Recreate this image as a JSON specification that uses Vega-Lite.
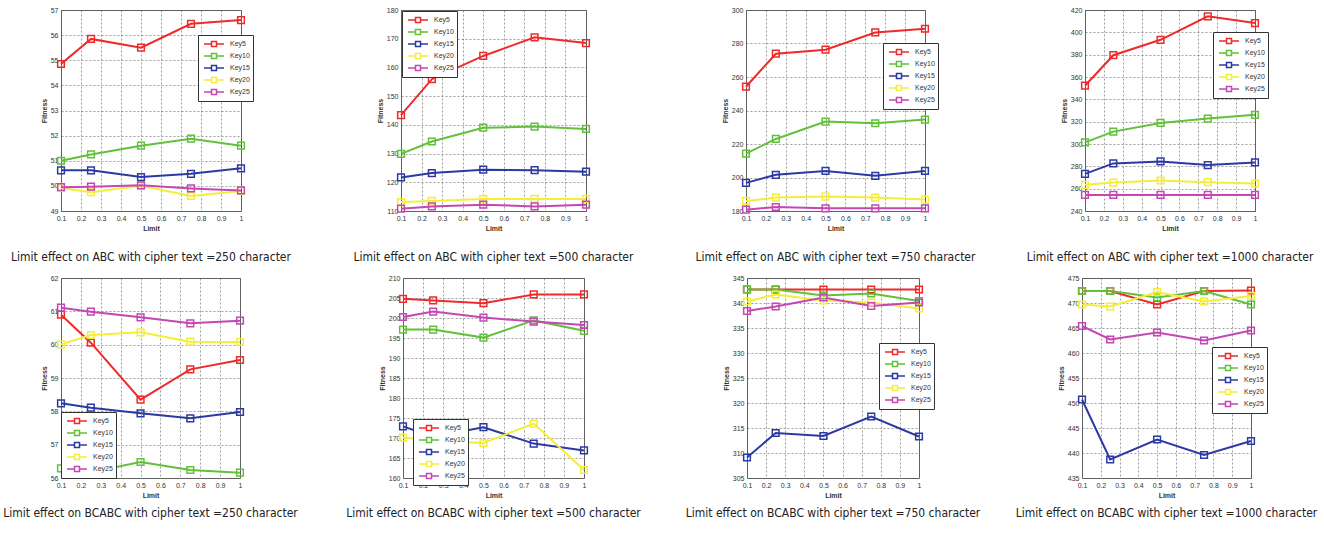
{
"$schema":"https://vega.github.io/schema/vega-lite/v6.json",
"background":"white",
"padding":{"left":2,"top":5,"right":5,"bottom":5},
"spacing":9,
"resolve":{"scale":{"color":"independent","x":"independent","y":"independent"},"legend":{"color":"independent"}},
"data":{"values":[
{"panel":"A250","limit":0.1,"key":"Key5","fitness":54.85},{"panel":"A250","limit":0.25,"key":"Key5","fitness":55.85},{"panel":"A250","limit":0.5,"key":"Key5","fitness":55.5},{"panel":"A250","limit":0.75,"key":"Key5","fitness":56.45},{"panel":"A250","limit":1,"key":"Key5","fitness":56.6},
{"panel":"A250","limit":0.1,"key":"Key10","fitness":51.0},{"panel":"A250","limit":0.25,"key":"Key10","fitness":51.25},{"panel":"A250","limit":0.5,"key":"Key10","fitness":51.6},{"panel":"A250","limit":0.75,"key":"Key10","fitness":51.88},{"panel":"A250","limit":1,"key":"Key10","fitness":51.6},
{"panel":"A250","limit":0.1,"key":"Key15","fitness":50.62},{"panel":"A250","limit":0.25,"key":"Key15","fitness":50.62},{"panel":"A250","limit":0.5,"key":"Key15","fitness":50.35},{"panel":"A250","limit":0.75,"key":"Key15","fitness":50.48},{"panel":"A250","limit":1,"key":"Key15","fitness":50.7},
{"panel":"A250","limit":0.1,"key":"Key20","fitness":49.92},{"panel":"A250","limit":0.25,"key":"Key20","fitness":49.75},{"panel":"A250","limit":0.5,"key":"Key20","fitness":50.0},{"panel":"A250","limit":0.75,"key":"Key20","fitness":49.6},{"panel":"A250","limit":1,"key":"Key20","fitness":49.8},
{"panel":"A250","limit":0.1,"key":"Key25","fitness":49.95},{"panel":"A250","limit":0.25,"key":"Key25","fitness":49.97},{"panel":"A250","limit":0.5,"key":"Key25","fitness":50.02},{"panel":"A250","limit":0.75,"key":"Key25","fitness":49.9},{"panel":"A250","limit":1,"key":"Key25","fitness":49.82},

{"panel":"A500","limit":0.1,"key":"Key5","fitness":143.4},{"panel":"A500","limit":0.25,"key":"Key5","fitness":155.9},{"panel":"A500","limit":0.5,"key":"Key5","fitness":164},{"panel":"A500","limit":0.75,"key":"Key5","fitness":170.5},{"panel":"A500","limit":1,"key":"Key5","fitness":168.5},
{"panel":"A500","limit":0.1,"key":"Key10","fitness":129.9},{"panel":"A500","limit":0.25,"key":"Key10","fitness":134.2},{"panel":"A500","limit":0.5,"key":"Key10","fitness":139},{"panel":"A500","limit":0.75,"key":"Key10","fitness":139.4},{"panel":"A500","limit":1,"key":"Key10","fitness":138.6},
{"panel":"A500","limit":0.1,"key":"Key15","fitness":121.7},{"panel":"A500","limit":0.25,"key":"Key15","fitness":123.2},{"panel":"A500","limit":0.5,"key":"Key15","fitness":124.4},{"panel":"A500","limit":0.75,"key":"Key15","fitness":124.2},{"panel":"A500","limit":1,"key":"Key15","fitness":123.7},
{"panel":"A500","limit":0.1,"key":"Key20","fitness":113.1},{"panel":"A500","limit":0.25,"key":"Key20","fitness":113.5},{"panel":"A500","limit":0.5,"key":"Key20","fitness":114.2},{"panel":"A500","limit":0.75,"key":"Key20","fitness":114.2},{"panel":"A500","limit":1,"key":"Key20","fitness":114.2},
{"panel":"A500","limit":0.1,"key":"Key25","fitness":110.8},{"panel":"A500","limit":0.25,"key":"Key25","fitness":111.6},{"panel":"A500","limit":0.5,"key":"Key25","fitness":112.2},{"panel":"A500","limit":0.75,"key":"Key25","fitness":111.6},{"panel":"A500","limit":1,"key":"Key25","fitness":112.2},

{"panel":"A750","limit":0.1,"key":"Key5","fitness":254.2},{"panel":"A750","limit":0.25,"key":"Key5","fitness":273.9},{"panel":"A750","limit":0.5,"key":"Key5","fitness":276.3},{"panel":"A750","limit":0.75,"key":"Key5","fitness":286.6},{"panel":"A750","limit":1,"key":"Key5","fitness":288.8},
{"panel":"A750","limit":0.1,"key":"Key10","fitness":214.3},{"panel":"A750","limit":0.25,"key":"Key10","fitness":223},{"panel":"A750","limit":0.5,"key":"Key10","fitness":233.4},{"panel":"A750","limit":0.75,"key":"Key10","fitness":232.4},{"panel":"A750","limit":1,"key":"Key10","fitness":234.6},
{"panel":"A750","limit":0.1,"key":"Key15","fitness":196.8},{"panel":"A750","limit":0.25,"key":"Key15","fitness":201.6},{"panel":"A750","limit":0.5,"key":"Key15","fitness":203.9},{"panel":"A750","limit":0.75,"key":"Key15","fitness":201},{"panel":"A750","limit":1,"key":"Key15","fitness":203.9},
{"panel":"A750","limit":0.1,"key":"Key20","fitness":186},{"panel":"A750","limit":0.25,"key":"Key20","fitness":188},{"panel":"A750","limit":0.5,"key":"Key20","fitness":188.6},{"panel":"A750","limit":0.75,"key":"Key20","fitness":188},{"panel":"A750","limit":1,"key":"Key20","fitness":186.8},
{"panel":"A750","limit":0.1,"key":"Key25","fitness":180.8},{"panel":"A750","limit":0.25,"key":"Key25","fitness":182.4},{"panel":"A750","limit":0.5,"key":"Key25","fitness":181.6},{"panel":"A750","limit":0.75,"key":"Key25","fitness":181.6},{"panel":"A750","limit":1,"key":"Key25","fitness":181.6},

{"panel":"A1000","limit":0.1,"key":"Key5","fitness":352.2},{"panel":"A1000","limit":0.25,"key":"Key5","fitness":379.5},{"panel":"A1000","limit":0.5,"key":"Key5","fitness":393.3},{"panel":"A1000","limit":0.75,"key":"Key5","fitness":414.3},{"panel":"A1000","limit":1,"key":"Key5","fitness":408.3},
{"panel":"A1000","limit":0.1,"key":"Key10","fitness":301.5},{"panel":"A1000","limit":0.25,"key":"Key10","fitness":311.1},{"panel":"A1000","limit":0.5,"key":"Key10","fitness":318.9},{"panel":"A1000","limit":0.75,"key":"Key10","fitness":322.8},{"panel":"A1000","limit":1,"key":"Key10","fitness":326.1},
{"panel":"A1000","limit":0.1,"key":"Key15","fitness":273.3},{"panel":"A1000","limit":0.25,"key":"Key15","fitness":282.6},{"panel":"A1000","limit":0.5,"key":"Key15","fitness":284.4},{"panel":"A1000","limit":0.75,"key":"Key15","fitness":281.1},{"panel":"A1000","limit":1,"key":"Key15","fitness":283.5},
{"panel":"A1000","limit":0.1,"key":"Key20","fitness":263.4},{"panel":"A1000","limit":0.25,"key":"Key20","fitness":265.5},{"panel":"A1000","limit":0.5,"key":"Key20","fitness":267.3},{"panel":"A1000","limit":0.75,"key":"Key20","fitness":265.8},{"panel":"A1000","limit":1,"key":"Key20","fitness":264.6},
{"panel":"A1000","limit":0.1,"key":"Key25","fitness":254.4},{"panel":"A1000","limit":0.25,"key":"Key25","fitness":254.4},{"panel":"A1000","limit":0.5,"key":"Key25","fitness":254.4},{"panel":"A1000","limit":0.75,"key":"Key25","fitness":254.4},{"panel":"A1000","limit":1,"key":"Key25","fitness":254.4},

{"panel":"B250","limit":0.1,"key":"Key5","fitness":60.9},{"panel":"B250","limit":0.25,"key":"Key5","fitness":60.06},{"panel":"B250","limit":0.5,"key":"Key5","fitness":58.35},{"panel":"B250","limit":0.75,"key":"Key5","fitness":59.26},{"panel":"B250","limit":1,"key":"Key5","fitness":59.54},
{"panel":"B250","limit":0.1,"key":"Key10","fitness":56.29},{"panel":"B250","limit":0.25,"key":"Key10","fitness":56.17},{"panel":"B250","limit":0.5,"key":"Key10","fitness":56.48},{"panel":"B250","limit":0.75,"key":"Key10","fitness":56.24},{"panel":"B250","limit":1,"key":"Key10","fitness":56.16},
{"panel":"B250","limit":0.1,"key":"Key15","fitness":58.24},{"panel":"B250","limit":0.25,"key":"Key15","fitness":58.11},{"panel":"B250","limit":0.5,"key":"Key15","fitness":57.94},{"panel":"B250","limit":0.75,"key":"Key15","fitness":57.79},{"panel":"B250","limit":1,"key":"Key15","fitness":57.98},
{"panel":"B250","limit":0.1,"key":"Key20","fitness":60.01},{"panel":"B250","limit":0.25,"key":"Key20","fitness":60.29},{"panel":"B250","limit":0.5,"key":"Key20","fitness":60.37},{"panel":"B250","limit":0.75,"key":"Key20","fitness":60.09},{"panel":"B250","limit":1,"key":"Key20","fitness":60.08},
{"panel":"B250","limit":0.1,"key":"Key25","fitness":61.11},{"panel":"B250","limit":0.25,"key":"Key25","fitness":60.99},{"panel":"B250","limit":0.5,"key":"Key25","fitness":60.82},{"panel":"B250","limit":0.75,"key":"Key25","fitness":60.64},{"panel":"B250","limit":1,"key":"Key25","fitness":60.72},

{"panel":"B500","limit":0.1,"key":"Key5","fitness":204.8},{"panel":"B500","limit":0.25,"key":"Key5","fitness":204.4},{"panel":"B500","limit":0.5,"key":"Key5","fitness":203.7},{"panel":"B500","limit":0.75,"key":"Key5","fitness":205.9},{"panel":"B500","limit":1,"key":"Key5","fitness":205.9},
{"panel":"B500","limit":0.1,"key":"Key10","fitness":197.1},{"panel":"B500","limit":0.25,"key":"Key10","fitness":197.1},{"panel":"B500","limit":0.5,"key":"Key10","fitness":195.1},{"panel":"B500","limit":0.75,"key":"Key10","fitness":199.4},{"panel":"B500","limit":1,"key":"Key10","fitness":196.8},
{"panel":"B500","limit":0.1,"key":"Key15","fitness":172.9},{"panel":"B500","limit":0.25,"key":"Key15","fitness":170.3},{"panel":"B500","limit":0.5,"key":"Key15","fitness":172.7},{"panel":"B500","limit":0.75,"key":"Key15","fitness":168.6},{"panel":"B500","limit":1,"key":"Key15","fitness":166.9},
{"panel":"B500","limit":0.1,"key":"Key20","fitness":170.1},{"panel":"B500","limit":0.25,"key":"Key20","fitness":169.3},{"panel":"B500","limit":0.5,"key":"Key20","fitness":168.75},{"panel":"B500","limit":0.75,"key":"Key20","fitness":173.6},{"panel":"B500","limit":1,"key":"Key20","fitness":162},
{"panel":"B500","limit":0.1,"key":"Key25","fitness":200.25},{"panel":"B500","limit":0.25,"key":"Key25","fitness":201.6},{"panel":"B500","limit":0.5,"key":"Key25","fitness":200.1},{"panel":"B500","limit":0.75,"key":"Key25","fitness":199.1},{"panel":"B500","limit":1,"key":"Key25","fitness":198.25},

{"panel":"B750","limit":0.1,"key":"Key5","fitness":342.7},{"panel":"B750","limit":0.25,"key":"Key5","fitness":342.7},{"panel":"B750","limit":0.5,"key":"Key5","fitness":342.7},{"panel":"B750","limit":0.75,"key":"Key5","fitness":342.7},{"panel":"B750","limit":1,"key":"Key5","fitness":342.7},
{"panel":"B750","limit":0.1,"key":"Key10","fitness":342.7},{"panel":"B750","limit":0.25,"key":"Key10","fitness":342.7},{"panel":"B750","limit":0.5,"key":"Key10","fitness":341.5},{"panel":"B750","limit":0.75,"key":"Key10","fitness":341.9},{"panel":"B750","limit":1,"key":"Key10","fitness":340.4},
{"panel":"B750","limit":0.1,"key":"Key15","fitness":309.1},{"panel":"B750","limit":0.25,"key":"Key15","fitness":314},{"panel":"B750","limit":0.5,"key":"Key15","fitness":313.4},{"panel":"B750","limit":0.75,"key":"Key15","fitness":317.3},{"panel":"B750","limit":1,"key":"Key15","fitness":313.3},
{"panel":"B750","limit":0.1,"key":"Key20","fitness":340.3},{"panel":"B750","limit":0.25,"key":"Key20","fitness":341.7},{"panel":"B750","limit":0.5,"key":"Key20","fitness":340.5},{"panel":"B750","limit":0.75,"key":"Key20","fitness":340.1},{"panel":"B750","limit":1,"key":"Key20","fitness":338.9},
{"panel":"B750","limit":0.1,"key":"Key25","fitness":338.4},{"panel":"B750","limit":0.25,"key":"Key25","fitness":339.3},{"panel":"B750","limit":0.5,"key":"Key25","fitness":341.1},{"panel":"B750","limit":0.75,"key":"Key25","fitness":339.4},{"panel":"B750","limit":1,"key":"Key25","fitness":340.1},

{"panel":"B1000","limit":0.1,"key":"Key5","fitness":472.4},{"panel":"B1000","limit":0.25,"key":"Key5","fitness":472.4},{"panel":"B1000","limit":0.5,"key":"Key5","fitness":469.7},{"panel":"B1000","limit":0.75,"key":"Key5","fitness":472.4},{"panel":"B1000","limit":1,"key":"Key5","fitness":472.5},
{"panel":"B1000","limit":0.1,"key":"Key10","fitness":472.4},{"panel":"B1000","limit":0.25,"key":"Key10","fitness":472.4},{"panel":"B1000","limit":0.5,"key":"Key10","fitness":471.1},{"panel":"B1000","limit":0.75,"key":"Key10","fitness":472.4},{"panel":"B1000","limit":1,"key":"Key10","fitness":469.7},
{"panel":"B1000","limit":0.1,"key":"Key15","fitness":450.7},{"panel":"B1000","limit":0.25,"key":"Key15","fitness":438.7},{"panel":"B1000","limit":0.5,"key":"Key15","fitness":442.7},{"panel":"B1000","limit":0.75,"key":"Key15","fitness":439.6},{"panel":"B1000","limit":1,"key":"Key15","fitness":442.4},
{"panel":"B1000","limit":0.1,"key":"Key20","fitness":469.7},{"panel":"B1000","limit":0.25,"key":"Key20","fitness":469.3},{"panel":"B1000","limit":0.5,"key":"Key20","fitness":472.2},{"panel":"B1000","limit":0.75,"key":"Key20","fitness":470.3},{"panel":"B1000","limit":1,"key":"Key20","fitness":471.4},
{"panel":"B1000","limit":0.1,"key":"Key25","fitness":465.4},{"panel":"B1000","limit":0.25,"key":"Key25","fitness":462.7},{"panel":"B1000","limit":0.5,"key":"Key25","fitness":464.1},{"panel":"B1000","limit":0.75,"key":"Key25","fitness":462.5},{"panel":"B1000","limit":1,"key":"Key25","fitness":464.5}
]},
"vconcat":[
{"hconcat":[
{"width":180,"height":201,"transform":[{"filter":"datum.panel=='A250'"}],"title":{"text":"Limit effect on ABC with cipher text =250 character","offset":21},
"mark":{"type":"line","strokeWidth":2,"point":{"shape":"square","filled":false,"size":45,"strokeWidth":1.5}},
"encoding":{"x":{"field":"limit","type":"quantitative","title":"Limit","scale":{"domain":[0.1,1]},"axis":{"values":[0.1,0.2,0.3,0.4,0.5,0.6,0.7,0.8,0.9,1],"labelExpr":"datum.value==1?'1':format(datum.value,'.1f')"}},
"y":{"field":"fitness","type":"quantitative","title":"Fitness","scale":{"domain":[49,57],"zero":false},"axis":{"values":[49,50,51,52,53,54,55,56,57]}},
"color":{"field":"key","type":"nominal","scale":{"domain":["Key5","Key10","Key15","Key20","Key25"]},"legend":{"orient":"none","legendX":137,"legendY":25}}}},
{"width":185,"height":201,"transform":[{"filter":"datum.panel=='A500'"}],"title":{"text":"Limit effect on ABC with cipher text =500 character","offset":21},
"mark":{"type":"line","strokeWidth":2,"point":{"shape":"square","filled":false,"size":45,"strokeWidth":1.5}},
"encoding":{"x":{"field":"limit","type":"quantitative","title":"Limit","scale":{"domain":[0.1,1]},"axis":{"values":[0.1,0.2,0.3,0.4,0.5,0.6,0.7,0.8,0.9,1],"labelExpr":"datum.value==1?'1':format(datum.value,'.1f')"}},
"y":{"field":"fitness","type":"quantitative","title":"Fitness","scale":{"domain":[110,180],"zero":false},"axis":{"values":[110,120,130,140,150,160,170,180]}},
"color":{"field":"key","type":"nominal","scale":{"domain":["Key5","Key10","Key15","Key20","Key25"]},"legend":{"orient":"none","legendX":1,"legendY":1}}}},
{"width":179,"height":201,"transform":[{"filter":"datum.panel=='A750'"}],"title":{"text":"Limit effect on ABC with cipher text =750 character","offset":21},
"mark":{"type":"line","strokeWidth":2,"point":{"shape":"square","filled":false,"size":45,"strokeWidth":1.5}},
"encoding":{"x":{"field":"limit","type":"quantitative","title":"Limit","scale":{"domain":[0.1,1]},"axis":{"values":[0.1,0.2,0.3,0.4,0.5,0.6,0.7,0.8,0.9,1],"labelExpr":"datum.value==1?'1':format(datum.value,'.1f')"}},
"y":{"field":"fitness","type":"quantitative","title":"Fitness","scale":{"domain":[180,300],"zero":false},"axis":{"values":[180,200,220,240,260,280,300]}},
"color":{"field":"key","type":"nominal","scale":{"domain":["Key5","Key10","Key15","Key20","Key25"]},"legend":{"orient":"none","legendX":137,"legendY":33}}}},
{"width":170,"height":201,"transform":[{"filter":"datum.panel=='A1000'"}],"title":{"text":"Limit effect on ABC with cipher text =1000 character","offset":21},
"mark":{"type":"line","strokeWidth":2,"point":{"shape":"square","filled":false,"size":45,"strokeWidth":1.5}},
"encoding":{"x":{"field":"limit","type":"quantitative","title":"Limit","scale":{"domain":[0.1,1]},"axis":{"values":[0.1,0.2,0.3,0.4,0.5,0.6,0.7,0.8,0.9,1],"labelExpr":"datum.value==1?'1':format(datum.value,'.1f')"}},
"y":{"field":"fitness","type":"quantitative","title":"Fitness","scale":{"domain":[240,420],"zero":false},"axis":{"values":[240,260,280,300,320,340,360,380,400,420]}},
"color":{"field":"key","type":"nominal","scale":{"domain":["Key5","Key10","Key15","Key20","Key25"]},"legend":{"orient":"none","legendX":128,"legendY":22}}}}
],"spacing":160,"bounds":"flush","resolve":{"scale":{"color":"independent"},"legend":{"color":"independent"}}},
{"hconcat":[
{"width":179,"height":200,"transform":[{"filter":"datum.panel=='B250'"}],"title":{"text":"Limit effect on BCABC with cipher text =250 character","offset":10},
"mark":{"type":"line","strokeWidth":2,"point":{"shape":"square","filled":false,"size":45,"strokeWidth":1.5}},
"encoding":{"x":{"field":"limit","type":"quantitative","title":"Limit","scale":{"domain":[0.1,1]},"axis":{"values":[0.1,0.2,0.3,0.4,0.5,0.6,0.7,0.8,0.9,1],"labelExpr":"datum.value==1?'1':format(datum.value,'.1f')"}},
"y":{"field":"fitness","type":"quantitative","title":"Fitness","scale":{"domain":[56,62],"zero":false},"axis":{"values":[56,57,58,59,60,61,62]}},
"color":{"field":"key","type":"nominal","scale":{"domain":["Key5","Key10","Key15","Key20","Key25"]},"legend":{"orient":"none","legendX":0,"legendY":134}}}},
{"width":181,"height":200,"transform":[{"filter":"datum.panel=='B500'"}],"title":{"text":"Limit effect on BCABC with cipher text =500 character","offset":10},
"mark":{"type":"line","strokeWidth":2,"point":{"shape":"square","filled":false,"size":45,"strokeWidth":1.5}},
"encoding":{"x":{"field":"limit","type":"quantitative","title":"Limit","scale":{"domain":[0.1,1]},"axis":{"values":[0.1,0.2,0.3,0.4,0.5,0.6,0.7,0.8,0.9,1],"labelExpr":"datum.value==1?'1':format(datum.value,'.1f')"}},
"y":{"field":"fitness","type":"quantitative","title":"Fitness","scale":{"domain":[160,210],"zero":false},"axis":{"values":[160,165,170,175,180,185,190,195,200,205,210]}},
"color":{"field":"key","type":"nominal","scale":{"domain":["Key5","Key10","Key15","Key20","Key25"]},"legend":{"orient":"none","legendX":10,"legendY":141}}}},
{"width":172,"height":200,"transform":[{"filter":"datum.panel=='B750'"}],"title":{"text":"Limit effect on BCABC with cipher text =750 character","offset":10},
"mark":{"type":"line","strokeWidth":2,"point":{"shape":"square","filled":false,"size":45,"strokeWidth":1.5}},
"encoding":{"x":{"field":"limit","type":"quantitative","title":"Limit","scale":{"domain":[0.1,1]},"axis":{"values":[0.1,0.2,0.3,0.4,0.5,0.6,0.7,0.8,0.9,1],"labelExpr":"datum.value==1?'1':format(datum.value,'.1f')"}},
"y":{"field":"fitness","type":"quantitative","title":"Fitness","scale":{"domain":[305,345],"zero":false},"axis":{"values":[305,310,315,320,325,330,335,340,345]}},
"color":{"field":"key","type":"nominal","scale":{"domain":["Key5","Key10","Key15","Key20","Key25"]},"legend":{"orient":"none","legendX":132,"legendY":65}}}},
{"width":169,"height":200,"transform":[{"filter":"datum.panel=='B1000'"}],"title":{"text":"Limit effect on BCABC with cipher text =1000 character","offset":10},
"mark":{"type":"line","strokeWidth":2,"point":{"shape":"square","filled":false,"size":45,"strokeWidth":1.5}},
"encoding":{"x":{"field":"limit","type":"quantitative","title":"Limit","scale":{"domain":[0.1,1]},"axis":{"values":[0.1,0.2,0.3,0.4,0.5,0.6,0.7,0.8,0.9,1],"labelExpr":"datum.value==1?'1':format(datum.value,'.1f')"}},
"y":{"field":"fitness","type":"quantitative","title":"Fitness","scale":{"domain":[435,475],"zero":false},"axis":{"values":[435,440,445,450,455,460,465,470,475]}},
"color":{"field":"key","type":"nominal","scale":{"domain":["Key5","Key10","Key15","Key20","Key25"]},"legend":{"orient":"none","legendX":130,"legendY":69}}}}
],"spacing":163,"bounds":"flush","resolve":{"scale":{"color":"independent"},"legend":{"color":"independent"}}}
],
"config":{
"font":"Liberation Sans",
"view":{"stroke":"#666","strokeWidth":1},
"range":{"category":["#ee2a2a","#62c03a","#2b3aa3","#f2ee3a","#c447b4"]},
"axis":{"labelFontSize":7,"labelColor":"#333","titleFontSize":7,"titleFontWeight":"bold","titleColor":"#333","domain":false,"ticks":false,"labelPadding":3,"titlePadding":3,"gridDash":[2,2],"gridColor":"#555","gridOpacity":0.7,"gridWidth":0.8,"labelFlush":false},
"legend":{"fillColor":"white","strokeColor":"#333","padding":3,"cornerRadius":0,"labelFontSize":7,"labelColor":"#333","symbolOffset":7,"labelOffset":10,"rowPadding":-2,"symbolType":"M-2,0H-0.5M0.5,0H2M-0.5,-0.5H0.5V0.5H-0.5Z","symbolSize":100,"symbolStrokeWidth":1.5,"title":null},
"title":{"orient":"bottom","anchor":"middle","font":"DejaVu Sans Condensed, Liberation Sans","fontSize":12,"fontWeight":"normal","color":"#222","frame":"group"}
}
}
